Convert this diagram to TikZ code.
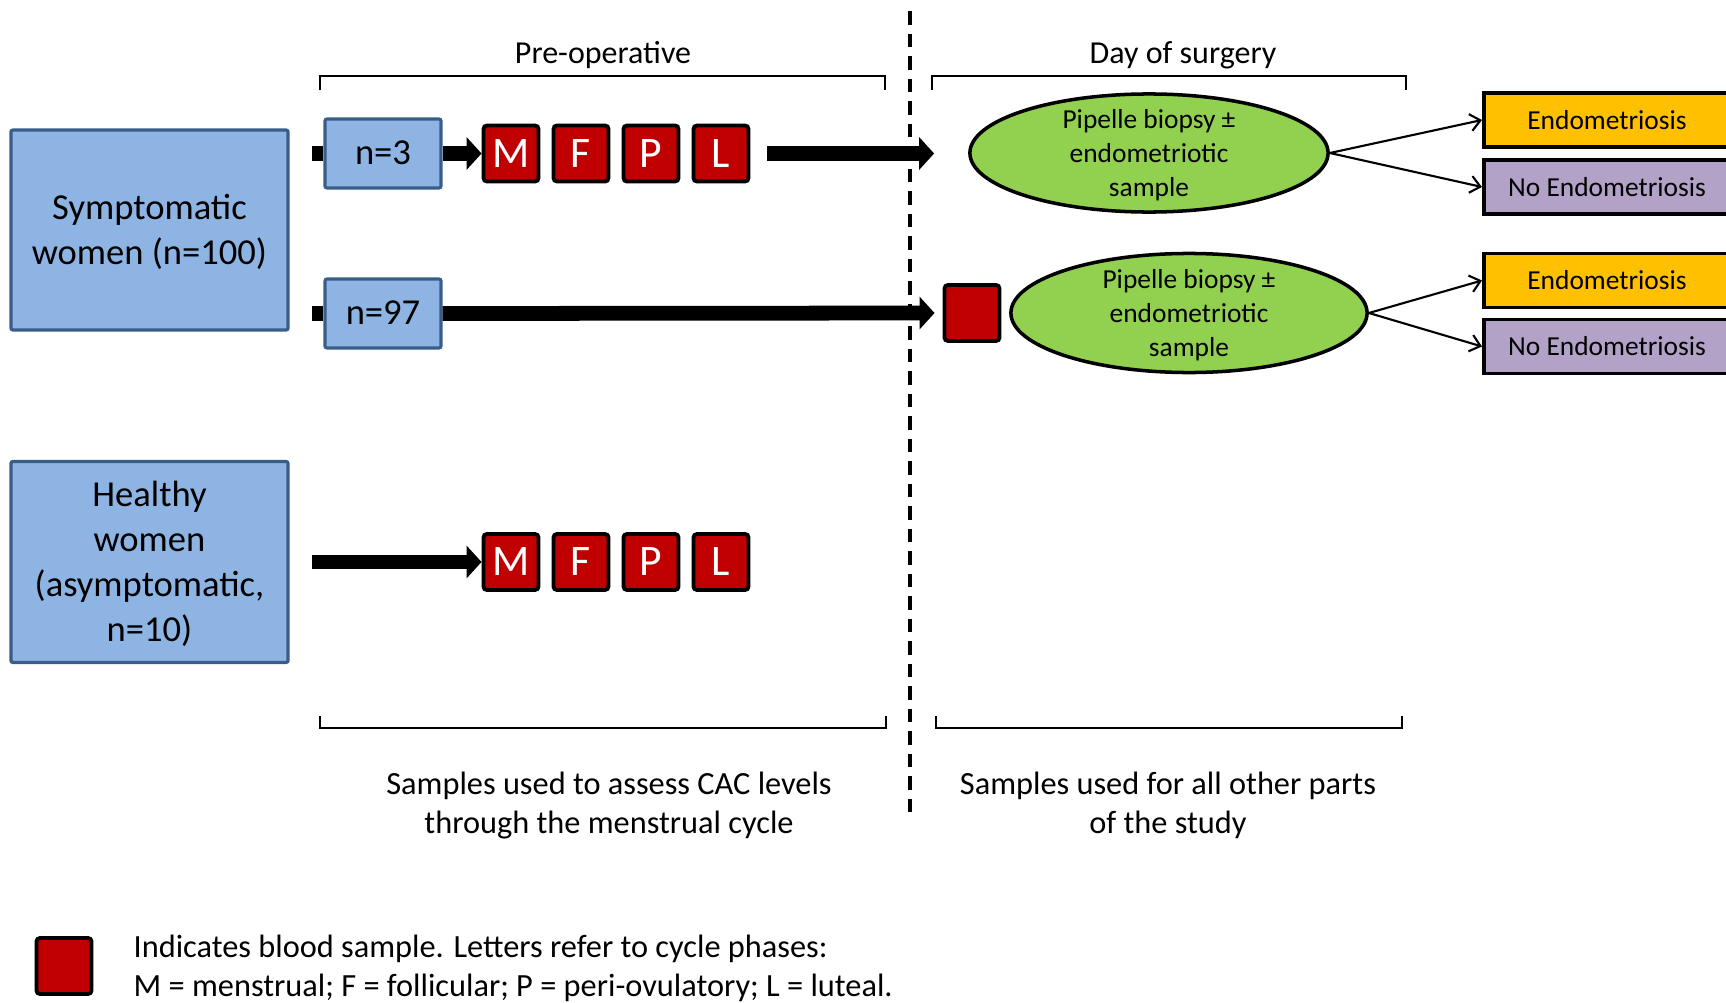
\documentclass[tikz,border=0pt]{standalone}
\usepackage{fontspec}
\setmainfont{Carlito}
\usetikzlibrary{arrows.meta,shapes.geometric}
\definecolor{boxblue}{HTML}{8EB4E3}
\definecolor{edgeblue}{HTML}{385D8A}
\definecolor{samplered}{HTML}{C00000}
\definecolor{biopsygreen}{HTML}{92D050}
\definecolor{endoorange}{HTML}{FFC000}
\definecolor{noendopurple}{HTML}{B3A2C7}
\begin{document}
\begin{tikzpicture}[x=0.01cm, y=-0.01cm,
    group/.style={draw=edgeblue, fill=boxblue, line width=0.9pt, rounded corners=0.6pt,
        align=center, inner sep=0pt, text depth=0.6pt, font=\fontsize{10.4}{12.8}\selectfont},
    sample/.style={draw=black, fill=samplered, line width=1.1pt, rounded corners=1pt,
        minimum width=0.55cm, minimum height=0.56cm, inner sep=0pt, text=white,
        font=\fontsize{12.4}{14}\selectfont},
    biopsy/.style={ellipse, draw=black, fill=biopsygreen, line width=1pt, inner sep=0pt},
    biopsytext/.style={align=center, inner sep=0pt, font=\fontsize{7.8}{9.7}\selectfont},
    outcome/.style={draw=black, line width=1.1pt, minimum width=2.46cm, minimum height=0.54cm,
        inner sep=0pt, font=\fontsize{7.8}{9.4}\selectfont},
    bigarrow/.style={line width=4.2pt, -{Triangle[length=0.15cm, width=0.32cm]}},
    bigline/.style={line width=4.2pt},
    thinarrow/.style={line width=0.6pt, -{Straight Barb[length=0.1cm, width=0.17cm]}},
    bracket/.style={line width=0.6pt},
    caption/.style={align=center, inner sep=0pt, font=\fontsize{9.2}{11.1}\selectfont}]
    \useasboundingbox (0,0) rectangle (1726,1003);
    % headers and brackets
    \node[caption, font=\fontsize{9.1}{11}\selectfont] (pre) at (603,55) {Pre-operative};
    \node[caption, font=\fontsize{9.1}{11}\selectfont] (day) at (1183,55) {Day of surgery};
    \draw[bracket] (320,90) -- (320,76) -- (885,76) -- (885,90);
    \draw[bracket] (932,90) -- (932,76) -- (1406,76) -- (1406,90);
    \draw[bracket] (320,716) -- (320,728) -- (886,728) -- (886,716);
    \draw[bracket] (936,716) -- (936,728) -- (1402,728) -- (1402,716);
    \draw[line width=0.9pt, dash pattern=on 3.9pt off 2.5pt] (910,11) -- (910,815);
    % groups
    \node[group, minimum width=2.77cm, minimum height=2.0cm] (symp) at (149.5,230)
        {Symptomatic\\women (n=100)};
    \node[group, minimum width=2.77cm, minimum height=2.01cm] (healthy) at (149.5,562)
        {Healthy\\women\\(asymptomatic,\\n=10)};
    \node[group, minimum width=1.16cm, minimum height=0.69cm] (n3) at (383,153.5) {n=3};
    \node[group, minimum width=1.16cm, minimum height=0.69cm] (n97) at (383,313.5) {n=97};
    % blood samples
    \foreach \lab [count=\i from 0] in {M,F,P,L}{
        \node[sample] (\lab1) at (511+70*\i,153.5) {\lab};
        \node[sample] (\lab2) at (511+70*\i,562) {\lab};
    }
    \node[sample] (rs) at (972,313) {};
    % surgery
    \node[biopsy, minimum width=3.58cm, minimum height=1.18cm] (ell1) at (1149,153) {};
    \node[biopsytext] (ell1text) at (1149,155) {Pipelle biopsy ±\\endometriotic\\sample};
    \node[biopsy, minimum width=3.56cm, minimum height=1.19cm] (ell2) at (1189,313) {};
    \node[biopsytext] (ell2text) at (1189,315) {Pipelle biopsy ±\\endometriotic\\sample};
    \node[outcome, fill=endoorange] (endo1) at (1607,120) {Endometriosis};
    \node[outcome, fill=noendopurple] (no1) at (1607,187) {No Endometriosis};
    \node[outcome, fill=endoorange] (endo2) at (1607,280.5) {Endometriosis};
    \node[outcome, fill=noendopurple] (no2) at (1607,346.5) {No Endometriosis};
    % connectors
    \coordinate (s3) at (312,153.5);
    \coordinate (s97) at (312,313.5);
    \coordinate (s10) at (312,562);
    \draw[bigline] (s3) -- (n3.west);
    \draw[bigline] (s97) -- (n97.west);
    \draw[bigarrow] (n3) -- (M1);
    \draw[bigarrow, shorten <=0.17cm, shorten >=0.34cm] (L1.east) -- (L1.east -| ell1.west);
    \draw[bigarrow, shorten >=0.08cm] (n97.east) -- (rs.west);
    \draw[bigarrow] (s10) -- (M2);
    \draw[thinarrow] (ell1.east) -- (endo1.west);
    \draw[thinarrow] (ell1.east) -- (no1.west);
    \draw[thinarrow] (ell2.east) -- (endo2.west);
    \draw[thinarrow] (ell2.east) -- (no2.west);
    % captions
    \node[caption] (capleft) at (609,805.5) {Samples used to assess CAC levels\\through the menstrual cycle};
    \node[caption] (capright) at (1168,805.5) {Samples used for all other parts\\of the study};
    % legend
    \node[sample] (legsq) at (64,966) {};
    \node[caption, anchor=west, align=left] (legtext) at (133,968.5)
        {Indicates blood sample. Letters refer to cycle phases:\\M = menstrual; F = follicular; P = peri-ovulatory; L = luteal.};
\end{tikzpicture}
\end{document}
